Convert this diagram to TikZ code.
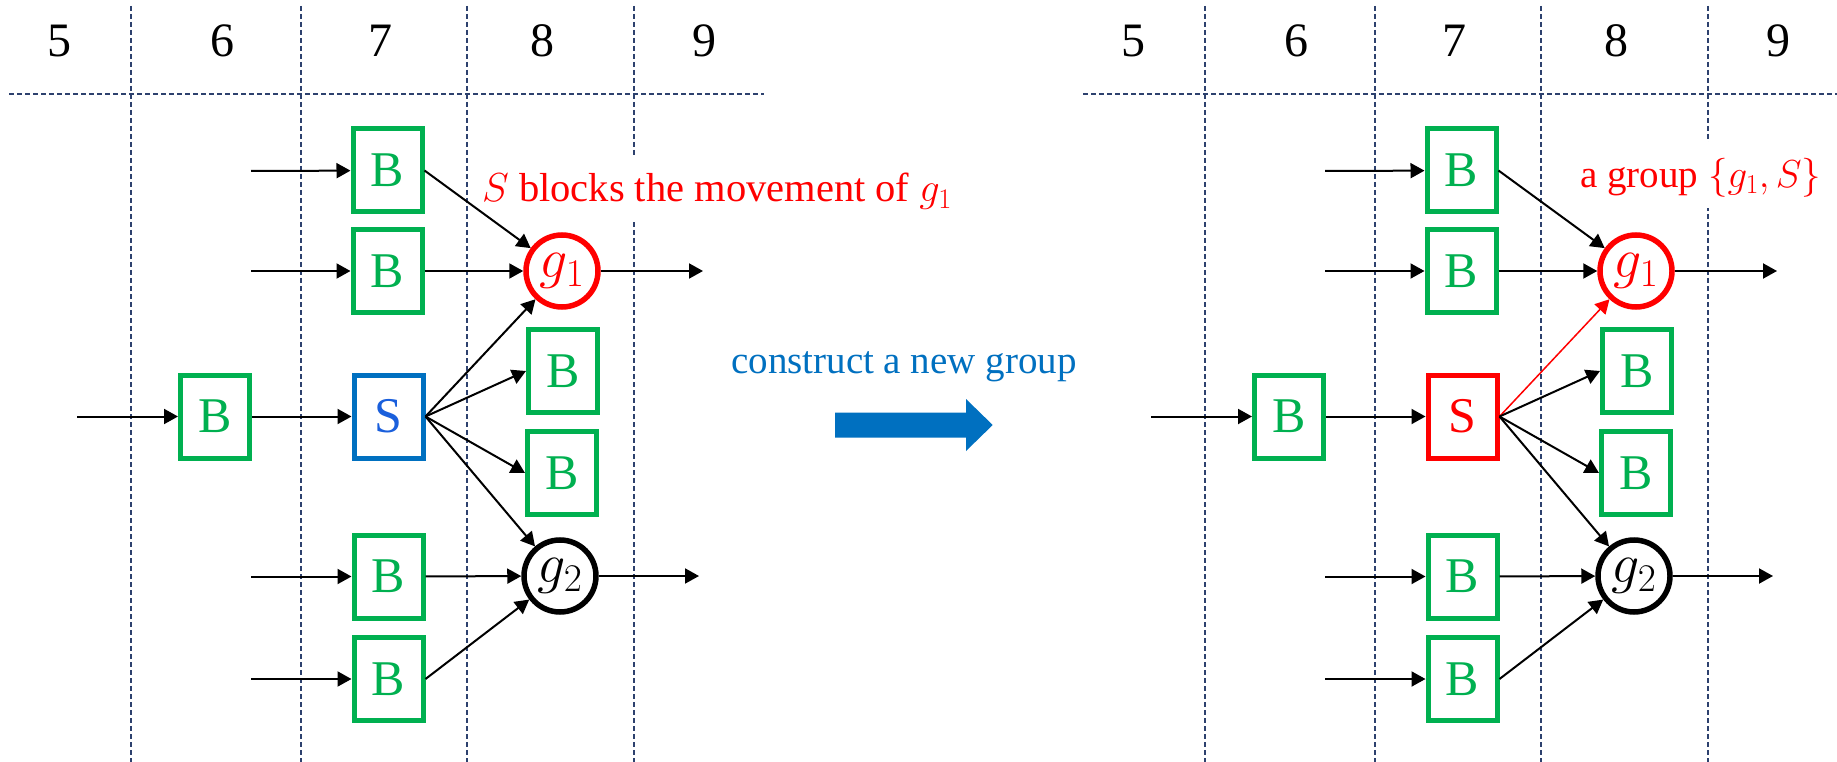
\RequirePackage{fix-cm}
\documentclass[tikz,border=0pt]{standalone}
\usepackage{fontspec}
\setmainfont{Liberation Serif}
\usetikzlibrary{arrows.meta}
\definecolor{bgreen}{HTML}{00B050}
\definecolor{sblue}{HTML}{0070C0}
\definecolor{sletter}{HTML}{1A5FDC}
\definecolor{gridc}{RGB}{45,65,110}
\tikzset{
  bbox/.style={draw=bgreen, line width=5pt, minimum width=69pt, minimum height=83pt,
    inner sep=0pt, text=bgreen, font=\fontsize{50}{50}\selectfont},
  gnode/.style={circle, line width=5.5pt, minimum size=72pt, inner sep=0pt,
    font=\fontsize{56}{56}\selectfont},
  arr/.style={line width=2pt, -{Triangle[length=14pt,width=15pt]}},
  redarr/.style={line width=1.5pt, draw=red, -{Triangle[length=14pt,width=15pt]}},
  gridline/.style={draw=gridc, line width=1.1pt, dash pattern=on 5pt off 3pt},
  collab/.style={anchor=base, font=\fontsize{48}{48}\selectfont},
  note/.style={anchor=base west, fill=white, inner sep=0pt, text height=46pt,
    text depth=20pt, text=red}
}
% #1 prefix, #2 S border colour, #3 S letter colour, #4 S->g1 style, #5 note
\newcommand\mypanel[5]{%
  \draw[gridline] (9,94) -- (764,94);
  \foreach \gx in {131,301,467,634}{\draw[gridline] (\gx,6) -- (\gx,762);}
  #5
  \node[collab] (#1c5) at (59,57) {5};
  \node[collab] (#1c6) at (222,57) {6};
  \node[collab] (#1c7) at (380,57) {7};
  \node[collab] (#1c8) at (542,57) {8};
  \node[collab] (#1c9) at (704,57) {9};
  \node[bbox] (#1b1) at (387.5,170.5) {B};
  \node[bbox] (#1b2) at (387.5,271) {B};
  \node[bbox] (#1bl) at (215,416.5) {B};
  \node[bbox, draw=#2, text=#3] (#1s) at (388.5,416.5) {S};
  \node[bbox] (#1b3) at (563,371) {B};
  \node[bbox] (#1b4) at (562,473) {B};
  \node[bbox] (#1b5) at (388.5,576.5) {B};
  \node[bbox] (#1b6) at (388.5,679) {B};
  \node[gnode, draw=red, text=red] (#1g1) at (562,271) {$g_1$};
  \node[gnode, draw=black] (#1g2) at (560,576) {$g_2$};
  \coordinate (#1i1) at (251,171);
  \coordinate (#1i2) at (251,271);
  \coordinate (#1il) at (77,416.5);
  \coordinate (#1i5) at (251,576.5);
  \coordinate (#1i6) at (251,679);
  \coordinate (#1o1) at (703,271);
  \coordinate (#1o2) at (699,576);
  \draw[arr] (#1i1) -- (#1b1);
  \draw[arr] (#1i2) -- (#1b2);
  \draw[arr] (#1il) -- (#1bl);
  \draw[arr] (#1bl) -- (#1s);
  \draw[arr] (#1i5) -- (#1b5);
  \draw[arr] (#1i6) -- (#1b6);
  \draw[arr] (#1b1.east) -- (#1g1);
  \draw[arr] (#1b2) -- (#1g1);
  \draw[#4] (#1s.east) -- (#1g1);
  \draw[arr] (#1s.east) -- (#1b3.west);
  \draw[arr] (#1s.east) -- (#1b4.west);
  \draw[arr] (#1s.east) -- (#1g2);
  \draw[arr] (#1b5) -- (#1g2);
  \draw[arr] (#1b6.east) -- (#1g2);
  \draw[arr] (#1g1) -- (#1o1);
  \draw[arr] (#1g2) -- (#1o2);
}
\begin{document}
\begin{tikzpicture}[x=1pt,y=-1pt]
\useasboundingbox (0,0) rectangle (1837,762);
\fill[white] (0,0) rectangle (1837,762);
\begin{scope}
  \mypanel{L}{sblue}{sletter}{arr}{%
    \node[note, font=\fontsize{40.5}{40.5}\selectfont] (lnote) at (482,202)
      {$S$ blocks the movement of $g_1$};}
\end{scope}
\begin{scope}[xshift=1074pt]
  \mypanel{R}{red}{red}{redarr}{%
    \node[note, font=\fontsize{39}{39}\selectfont] (rnote) at (506,188)
      {a group $\{g_1,S\}$};}
\end{scope}
\node[anchor=base west, text=sblue, font=\fontsize{39}{39}\selectfont, inner sep=0pt]
  (ctext) at (731,373) {construct a new group};
\fill[sblue] (835,412.7) -- (966,412.7) -- (966,399) -- (992.7,425) -- (966,451)
  -- (966,437.7) -- (835,437.7) -- cycle;
\end{tikzpicture}
\end{document}
